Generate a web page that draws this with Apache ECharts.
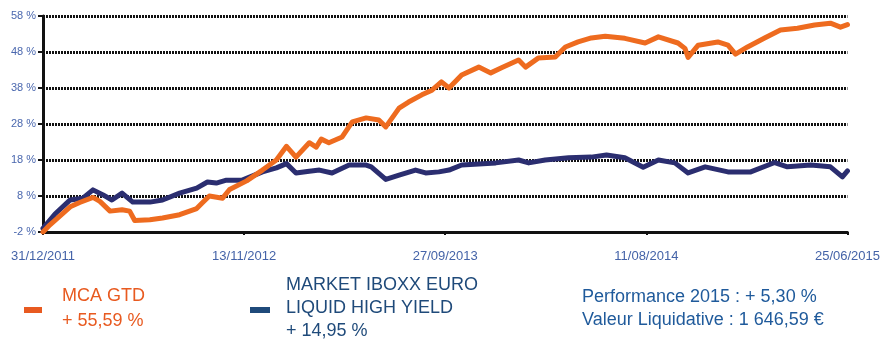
<!DOCTYPE html>
<html>
<head>
<meta charset="utf-8">
<script src="https://cdn.jsdelivr.net/npm/echarts@6/dist/echarts.min.js"></script>
<style>
html,body{margin:0;padding:0;background:#fff;}
#chart{width:883px;height:340px;}
</style>
</head>
<body>
<div id="chart"></div>
<script>
// Day offsets from 31/12/2011
const startDate = '2011-12-31';
const tickLabels = ['31/12/2011', '13/11/2012', '27/09/2013', '11/08/2014', '25/06/2015'];
const tickStepDays = 318;

const mcaDays = [0, 11, 27, 43, 58, 79, 90, 106, 125, 137, 145, 169, 189, 216, 243, 252, 263, 284, 295, 322, 347, 369, 385, 400, 421, 432, 440, 452, 473, 489, 511, 531, 542, 563, 578, 599, 615, 630, 642, 662, 689, 708, 725, 752, 763, 783, 810, 826, 846, 867, 889, 920, 952, 973, 1004, 1015, 1020, 1036, 1067, 1083, 1095, 1114, 1141, 1166, 1193, 1220, 1245, 1261, 1272];
const mcaValues = [-2, 0, 2.5, 5.0, 6.2, 7.6, 6.5, 3.8, 4.2, 3.8, 1.2, 1.4, 1.9, 2.8, 4.5, 6.1, 8.0, 7.4, 9.8, 12.2, 15.2, 18, 21.8, 18.8, 22.8, 21.6, 23.8, 22.8, 24.4, 28.6, 29.7, 29.1, 27.2, 32.4, 34.1, 36.1, 37.4, 39.7, 38, 41.6, 43.8, 42.2, 43.6, 45.8, 43.8, 46.3, 46.6, 49.4, 50.8, 51.9, 52.4, 51.8, 50.5, 52.2, 50.5, 49, 46.5, 49.9, 50.8, 49.9, 47.4, 49.4, 51.9, 54.1, 54.6, 55.5, 56.0, 54.9, 55.59];

const mktDays = [0, 19, 43, 63, 79, 95, 109, 125, 142, 169, 189, 216, 243, 260, 274, 290, 315, 347, 369, 385, 400, 421, 437, 457, 484, 511, 519, 542, 563, 589, 605, 626, 642, 662, 716, 752, 768, 794, 831, 867, 891, 920, 949, 973, 999, 1020, 1047, 1083, 1119, 1157, 1177, 1214, 1245, 1264, 1272];
const mktValues = [-1, 3, 6.9, 7.4, 9.7, 8.3, 6.9, 8.8, 6.3, 6.3, 6.9, 8.8, 10.2, 11.9, 11.6, 12.4, 12.4, 14.7, 15.8, 17.0, 14.4, 14.9, 15.2, 14.4, 16.6, 16.6, 16.1, 12.6, 13.8, 15.2, 14.4, 14.7, 15.2, 16.6, 17.2, 18, 17.2, 18, 18.6, 18.8, 19.4, 18.6, 16.0, 18, 17.2, 14.4, 16.1, 14.7, 14.7, 17.3, 16.1, 16.6, 16.1, 13.3, 14.95];

const yMin = -2, yMax = 58, yStep = 10;

const pair = (xs, ys) => xs.map((x, i) => [x, ys[i]]);

const chart = echarts.init(document.getElementById('chart'), null, {renderer: 'canvas'});
const FONT = '"Liberation Sans", Arial, sans-serif';
const gridLine = {color: '#111', width: 3, type: [2, 1]};

chart.setOption({
  animation: false,
  backgroundColor: '#ffffff',
  grid: {left: 43, right: 33, top: 16, bottom: 108, containLabel: false},
  xAxis: {
    type: 'value',
    min: 0,
    max: tickStepDays * (tickLabels.length - 1),
    interval: tickStepDays,
    axisLine: {show: true, onZero: false, lineStyle: gridLine},
    axisTick: {show: true, length: 3, lineStyle: {color: '#111', width: 2}},
    splitLine: {show: false},
    axisLabel: {
      margin: 18,
      color: '#4463a8',
      fontFamily: FONT,
      fontSize: 13,
      formatter: v => tickLabels[Math.round(v / tickStepDays)] || ''
    }
  },
  yAxis: {
    type: 'value',
    min: yMin,
    max: yMax,
    interval: yStep,
    axisLine: {show: true, lineStyle: {color: '#111', width: 3}},
    axisTick: {show: true, length: 5, lineStyle: {color: '#111', width: 2}},
    splitLine: {show: true, lineStyle: gridLine},
    axisLabel: {
      margin: 7,
      color: '#4a67ae',
      fontFamily: FONT,
      fontSize: 11,
      formatter: v => v + ' %'
    }
  },
  series: [
    {
      name: 'MARKET IBOXX EURO LIQUID HIGH YIELD',
      type: 'line',
      data: pair(mktDays, mktValues),
      symbol: 'none',
      lineStyle: {color: '#2b2e70', width: 5, join: 'round', cap: 'round'},
      z: 3
    },
    {
      name: 'MCA GTD',
      type: 'line',
      data: pair(mcaDays, mcaValues),
      symbol: 'none',
      lineStyle: {color: '#ee6b1f', width: 5, join: 'round', cap: 'round'},
      z: 4
    }
  ],
  graphic: [
    {type: 'rect', left: 24, top: 307, shape: {width: 18, height: 6}, style: {fill: '#e85a20'}},
    {type: 'text', left: 62, top: 287, style: {text: 'MCA GTD', fill: '#e85a20', font: '18px ' + FONT}},
    {type: 'text', left: 62, top: 312, style: {text: '+ 55,59 %', fill: '#e85a20', font: '18px ' + FONT}},
    {type: 'rect', left: 250, top: 307, shape: {width: 20, height: 6}, style: {fill: '#1f4a7a'}},
    {type: 'text', left: 286, top: 276, style: {text: 'MARKET IBOXX EURO', fill: '#1f4a7a', font: '18px ' + FONT}},
    {type: 'text', left: 286, top: 299, style: {text: 'LIQUID HIGH YIELD', fill: '#1f4a7a', font: '18px ' + FONT}},
    {type: 'text', left: 286, top: 322, style: {text: '+ 14,95 %', fill: '#1f4a7a', font: '18px ' + FONT}},
    {type: 'text', left: 582, top: 288, style: {text: 'Performance 2015 : + 5,30 %', fill: '#1f5a9b', font: '18px ' + FONT}},
    {type: 'text', left: 582, top: 311, style: {text: 'Valeur Liquidative : 1 646,59 €', fill: '#1f5a9b', font: '18px ' + FONT}}
  ]
});
</script>
</body>
</html>
